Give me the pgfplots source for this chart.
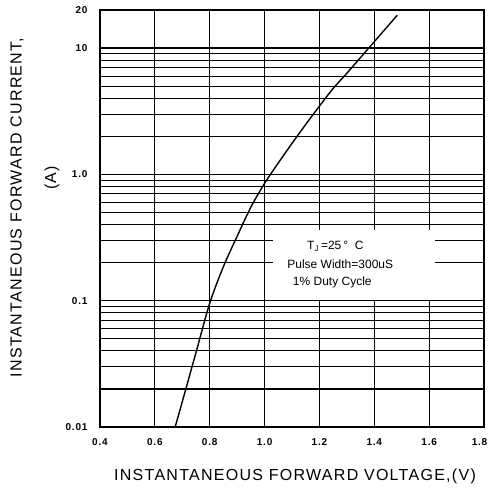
\documentclass[border=0pt]{standalone}
\usepackage{fontspec}
\setmainfont{Liberation Sans}
\newfontfamily\spacedfont[LetterSpace=8]{Liberation Sans}
\usepackage{pgfplots}
\pgfplotsset{compat=1.18}
\begin{document}
\begin{tikzpicture}[x=1pt,y=1pt]
\useasboundingbox (-100,-62) rectangle (390,427);
\begin{semilogyaxis}[
  scale only axis,
  width=384pt, height=417pt,
  xmin=0.4, xmax=1.8,
  ymin=0.01, ymax=20,
  xtick={0.4,0.6,0.8,1.0,1.2,1.4,1.6,1.8},
  xticklabels={0.4,0.6,0.8,1.0,1.2,1.4,1.6,{\kern-9pt 1.8}},
  ytick={0.01,0.1,1,10},
  yticklabels={0.01,0.1,1.0,10},
  extra y ticks={20},
  extra y tick labels={20},
  extra y tick style={grid=none},
  minor ytick={0.02,0.03,0.04,0.05,0.06,0.07,0.08,0.09,0.2,0.3,0.4,0.5,0.6,0.7,0.8,0.9,2,3,4,5,6,7,8,9},
  xmajorgrids, ymajorgrids, yminorgrids,
  major grid style={black, line width=1.05pt},
  minor grid style={black, line width=1.05pt},
  axis line style={black, line width=1.05pt},
  major tick length=0pt, minor tick length=0pt,
  tick label style={font=\fontsize{10}{11}\selectfont\bfseries\spacedfont},
  /pgf/number format/assume math mode=true,
  xticklabel style={yshift=-8pt},
  yticklabel style={xshift=-9pt},
  clip=false,
]
\fill[white] (axis cs:1.03,0.102) rectangle (axis cs:1.62,0.36);
\addplot[black, line width=1.4pt, smooth] coordinates {
  (0.674,0.0100) (0.70,0.01585) (0.75,0.0389) (0.80,0.0955) (0.85,0.1862)
  (0.90,0.3236) (0.95,0.5495) (1.00,0.849) (1.05,1.230) (1.10,1.758)
  (1.15,2.483) (1.20,3.467) (1.25,4.786) (1.30,6.310) (1.35,8.414)
  (1.40,11.22) (1.484,18.20)
};
\node[font=\fontsize{12}{13}\selectfont] at (axis cs:1.258,0.269) {T\textsubscript{J}\,=25\,°\ \ C};
\node[font=\fontsize{12}{13}\selectfont] at (axis cs:1.276,0.194) {Pulse Width=300uS};
\node[font=\fontsize{12}{13}\selectfont] at (axis cs:1.247,0.140) {1\% Duty Cycle};
\end{semilogyaxis}
\node[rotate=90, font=\fontsize{16}{18}\selectfont\spacedfont] at (-83,219.5) {INSTANTANEOUS FORWARD CURRENT,};
\node[rotate=90, font=\fontsize{16}{18}\selectfont\spacedfont] at (-48,249) {(A)};
\node[font=\fontsize{16}{18}\selectfont\spacedfont] at (195,-49) {INSTANTANEOUS FORWARD VOLTAGE,(V)};
\end{tikzpicture}
\end{document}
